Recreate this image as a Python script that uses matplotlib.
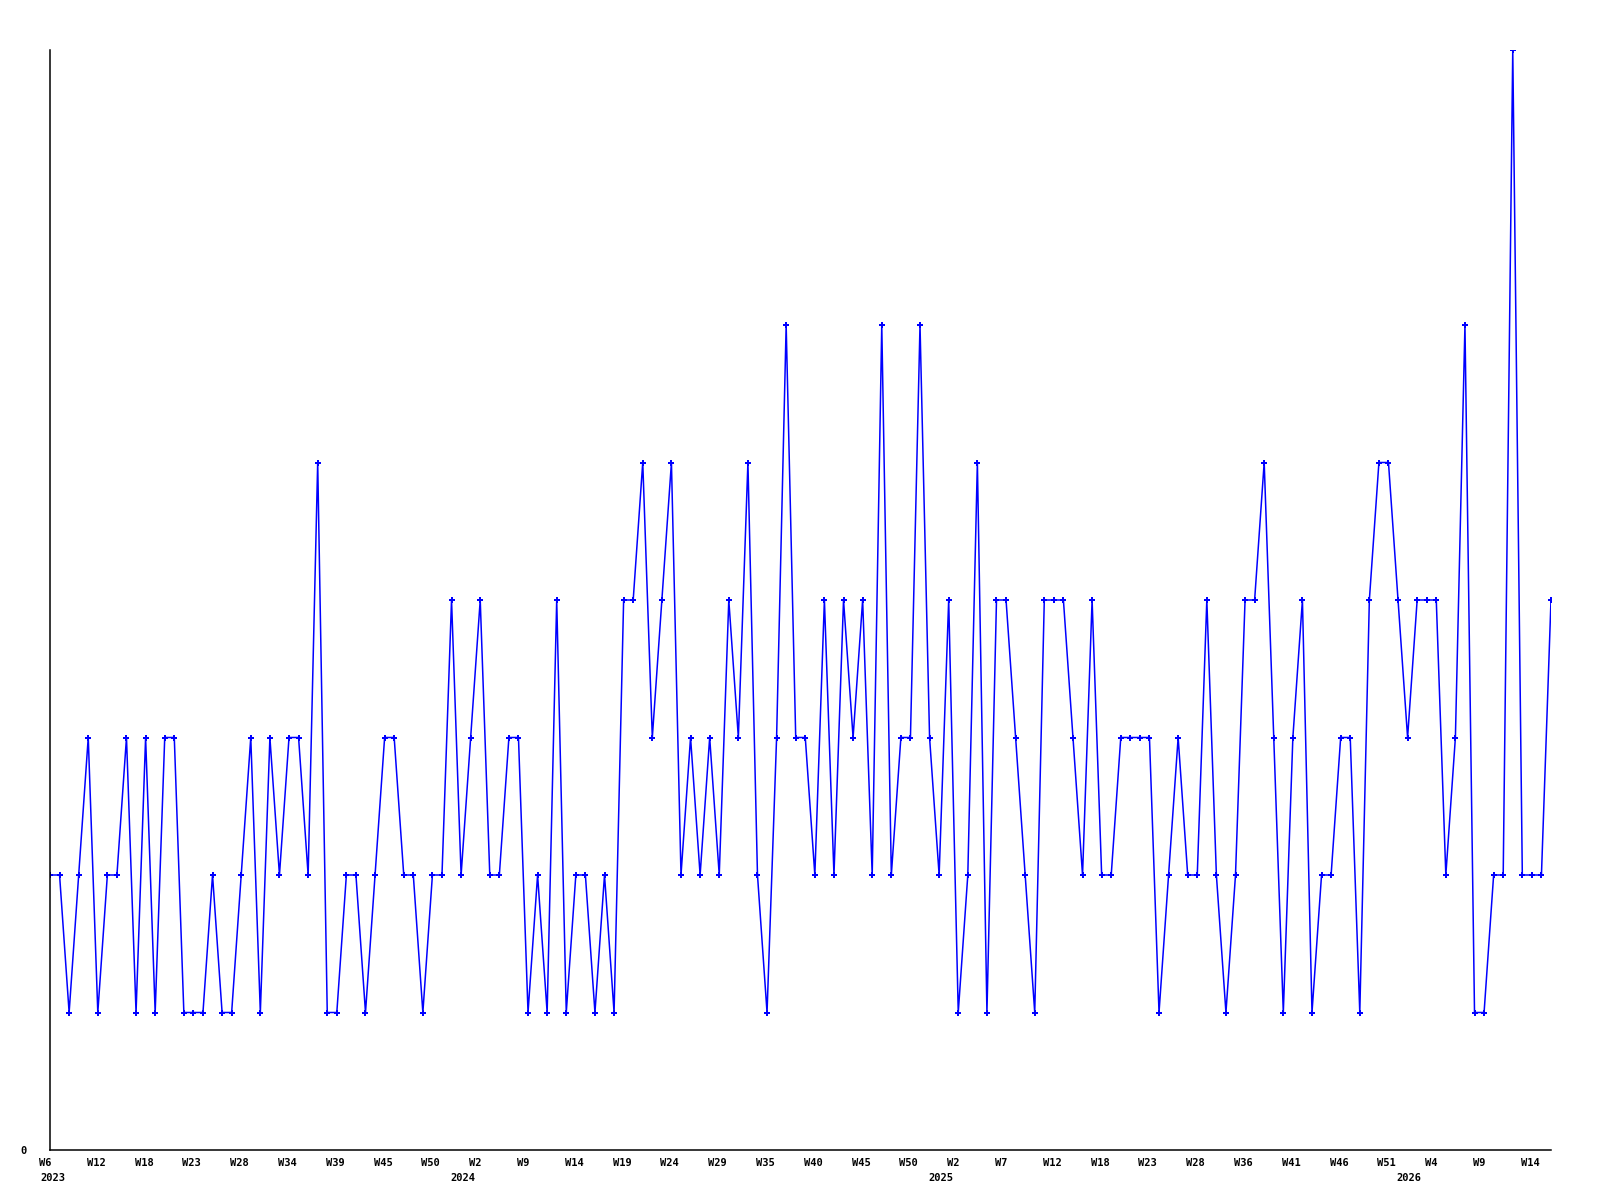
import numpy as np
import matplotlib.pyplot as plt
from matplotlib.transforms import blended_transform_factory, ScaledTranslation

# weekly counts, one point per reported week (some weeks are missing)
counts = [2, 2, 1, 2, 3, 1, 2, 2, 3, 1, 3, 1, 3, 3, 1, 1, 1, 2, 1, 1,
          2, 3, 1, 3, 2, 3, 3, 2, 5, 1, 1, 2, 2, 1, 2, 3, 3, 2, 2, 1,
          2, 2, 4, 2, 3, 4, 2, 2, 3, 3, 1, 2, 1, 4, 1, 2, 2, 1, 2, 1,
          4, 4, 5, 3, 4, 5, 2, 3, 2, 3, 2, 4, 3, 5, 2, 1, 3, 6, 3, 3,
          2, 4, 2, 4, 3, 4, 2, 6, 2, 3, 3, 6, 3, 2, 4, 1, 2, 5, 1, 4,
          4, 3, 2, 1, 4, 4, 4, 3, 2, 4, 2, 2, 3, 3, 3, 3, 1, 2, 3, 2,
          2, 4, 2, 1, 2, 4, 4, 5, 3, 1, 3, 4, 1, 2, 2, 3, 3, 1, 4, 5,
          5, 4, 3, 4, 4, 4, 2, 3, 6, 1, 1, 2, 2, 8, 2, 2, 2, 4]

# labelled every 5th point
week_labels = ['W6', 'W12', 'W18', 'W23', 'W28', 'W34', 'W39', 'W45', 'W50',
               'W2', 'W9', 'W14', 'W19', 'W24', 'W29', 'W35', 'W40', 'W45', 'W50',
               'W2', 'W7', 'W12', 'W18', 'W23', 'W28', 'W36', 'W41', 'W46', 'W51',
               'W4', 'W9', 'W14']
years = ['2023', '2024', '2025', '2026']
year_ticks = [0, 9, 19, 29]   # index into week_labels where the year starts
year_shift = [0.3, -1.8, -1.8, -2.9]  # year label sits a bit before the tick

font = dict(family='DejaVu Sans Mono', weight='bold', size=7.5)

fig = plt.figure(figsize=(16, 12), dpi=100)
ax = fig.add_axes([50/1600, 50/1200, (1551-50)/1600, (1150-50)/1200])

x = np.arange(len(counts))
ax.plot(x, counts, color='#0000ff', lw=1.1, marker='P', ms=4.5,
        markeredgewidth=0, solid_joinstyle='miter')

ax.set_xlim(0, len(counts) - 1)
ax.set_ylim(0, max(counts))

for s in ['top', 'right']:
    ax.spines[s].set_visible(False)
for s in ['left', 'bottom']:
    ax.spines[s].set_linewidth(1.1)
    ax.spines[s].set_color('black')

ticks = x[::5]
ax.set_xticks(ticks)
ax.set_xticklabels(week_labels, fontdict=font, ha='left')
ax.set_yticks([0])
ax.set_yticklabels(['0'], fontdict=font)
ax.tick_params(axis='x', length=0, pad=6)
ax.tick_params(axis='y', length=0, pad=17)

# week labels start about 11 px left of their point
shift = ScaledTranslation(-11/100, 0, fig.dpi_scale_trans)
for lab in ax.get_xticklabels():
    lab.set_transform(lab.get_transform() + shift)

trans = blended_transform_factory(ax.transData, ax.transAxes)
for yr, t, dx in zip(years, year_ticks, year_shift):
    ax.text(ticks[t] + dx, -0.021, yr, transform=trans, ha='center', va='top', **font)

plt.savefig('out.png', dpi=100)
plt.close('all')
